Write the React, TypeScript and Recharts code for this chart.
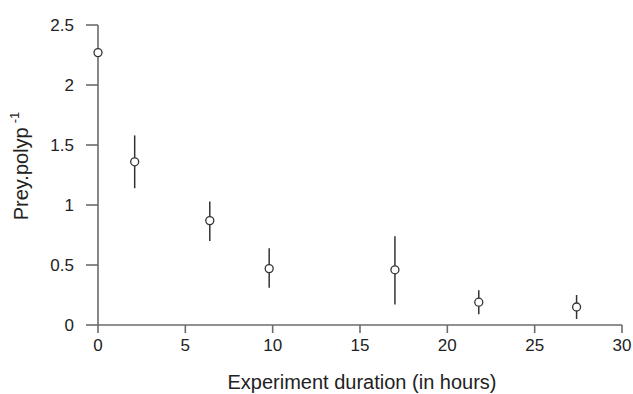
import React from "react";
import { ScatterChart, Scatter, XAxis, YAxis, ErrorBar, Label } from "recharts";

// hours since start
const hours = [0, 2.1, 6.4, 9.8, 17.0, 21.8, 27.4];
// mean prey per polyp
const preyMean = [2.27, 1.36, 0.87, 0.47, 0.46, 0.19, 0.15];
const preyLow = [2.27, 1.14, 0.7, 0.31, 0.17, 0.09, 0.05];
const preyHigh = [2.27, 1.58, 1.03, 0.64, 0.74, 0.29, 0.25];

const xTicks = [0, 5, 10, 15, 20, 25, 30];
const yTicks = [0, 0.5, 1, 1.5, 2, 2.5];

const data = hours.map((h, i) => ({
  x: h,
  y: preyMean[i],
  err: [preyMean[i] - preyLow[i], preyHigh[i] - preyMean[i]],
}));

const axisColor = "#6b6b6b";
const textColor = "#222";
const font = "'Liberation Sans', Arial, sans-serif";

const OpenCircle = (props: any) => {
  const { cx, cy } = props;
  if (cx == null || cy == null) return null;
  return <circle cx={cx} cy={cy} r={4} fill="#fff" stroke="#333" strokeWidth={1.3} />;
};

export default function App() {
  return (
    <div style={{ position: "absolute", left: 0, top: 0, background: "#fff", fontFamily: font }}>
      <ScatterChart width={633} height={394} margin={{ top: 25, right: 11, bottom: 29, left: 0 }}>
        <XAxis
          type="number"
          dataKey="x"
          domain={[0, 30]}
          ticks={xTicks}
          interval={0}
          stroke={axisColor}
          strokeWidth={1.6}
          tickSize={8}
          tickMargin={6}
          height={40}
          tick={{ fill: textColor, fontSize: 17, fontFamily: font }}
        >
          <Label
            content={() => (
              <text x={362} y={389} textAnchor="middle" fill={textColor} fontSize={20} fontFamily={font}>
                Experiment duration (in hours)
              </text>
            )}
          />
        </XAxis>
        <YAxis
          type="number"
          dataKey="y"
          domain={[0, 2.5]}
          ticks={yTicks}
          interval={0}
          width={98}
          stroke={axisColor}
          strokeWidth={1.6}
          tickSize={12}
          tickMargin={12}
          tick={{ fill: textColor, fontSize: 17, fontFamily: font }}
        >
          <Label
            content={() => (
              <text
                x={28}
                y={166}
                transform="rotate(-90, 28, 166)"
                textAnchor="middle"
                fill={textColor}
                fontSize={20}
                fontFamily={font}
              >
                Prey.polyp
                <tspan dx={4} dy={-9} fontSize={13}>
                  -1
                </tspan>
              </text>
            )}
          />
        </YAxis>
        <Scatter data={data} shape={<OpenCircle />} isAnimationActive={false}>
          <ErrorBar dataKey="err" direction="y" width={0} stroke="#333" strokeWidth={1.5} />
        </Scatter>
      </ScatterChart>
    </div>
  );
}
